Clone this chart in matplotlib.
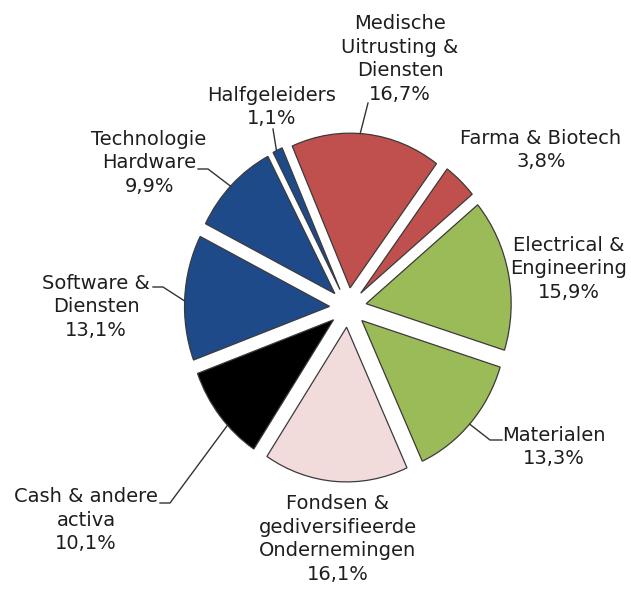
import numpy as np
import matplotlib.pyplot as plt

# data, clockwise from the top
labels = ["Halfgeleiders", "Medische\nUitrusting &\nDiensten", "Farma & Biotech",
          "Electrical &\nEngineering", "Materialen", "Fondsen &\ngediversifieerde\nOndernemingen",
          "Cash & andere\nactiva", "Software &\nDiensten", "Technologie\nHardware"]
pct_text = ["1,1%", "16,7%", "3,8%", "15,9%", "13,3%", "16,1%", "10,1%", "13,1%", "9,9%"]
values = [1.1, 16.7, 3.8, 15.9, 13.3, 16.1, 10.1, 13.1, 9.9]
colors = ["#1F4A8A", "#C0504D", "#C0504D", "#9BBB59", "#9BBB59", "#F2DCDB",
          "#000000", "#1F4A8A", "#1F4A8A"]

W, H = 631, 590
SY = 1.067  # the original pie is a little taller than wide

# layout (pixel coords, y from top): text centre, leader start points, anchor angle on wedge
text_pos = [(272, 107), (400, 59), (541, 150), (569, 269), (554, 447),
            (338, 539), (86, 520), (96, 307), (149, 163)]
leaders = {
    0: ([(273, 129)], 116),
    1: ([(368, 103)], 86),
    4: ([(502, 440), (490, 440)], -42),
    6: ([(160, 503), (170, 503)], 223),
    7: ([(153, 287), (163, 287)], 178),
    8: ([(198, 169), (208, 169)], 136),
}


def py(y):
    return (H - y) / SY


fig = plt.figure(figsize=(W / 100, H / 100), dpi=100)
ax = fig.add_axes([0, 0, 1, 1])

# explode is in data units here (pie does not scale it by radius)
wedges, _ = ax.pie(values, colors=colors, startangle=117.5, counterclock=False,
                   radius=145, center=(348, py(307.5)), explode=[18.5] * len(values),
                   wedgeprops=dict(edgecolor="#3a3a3a", linewidth=0.9))

ax.set_xlim(0, W)
ax.set_ylim(0, H / SY)
ax.set_aspect("auto")
ax.axis("off")

for i, (lab, pct) in enumerate(zip(labels, pct_text)):
    x, y = text_pos[i]
    ax.text(x, py(y), lab + "\n" + pct, ha="center", va="center", fontsize=14,
            color="#1e1e1e", linespacing=1.32, family="DejaVu Sans")

for i, (pts, ang) in leaders.items():
    w = wedges[i]
    cx, cy = w.center
    ex = cx + w.r * np.cos(np.radians(ang))
    ey = cy + w.r * np.sin(np.radians(ang))
    xs = [p[0] for p in pts] + [ex]
    ys = [py(p[1]) for p in pts] + [ey]
    ax.plot(xs, ys, color="#333333", lw=1)

fig.savefig("out.png", dpi=100)
